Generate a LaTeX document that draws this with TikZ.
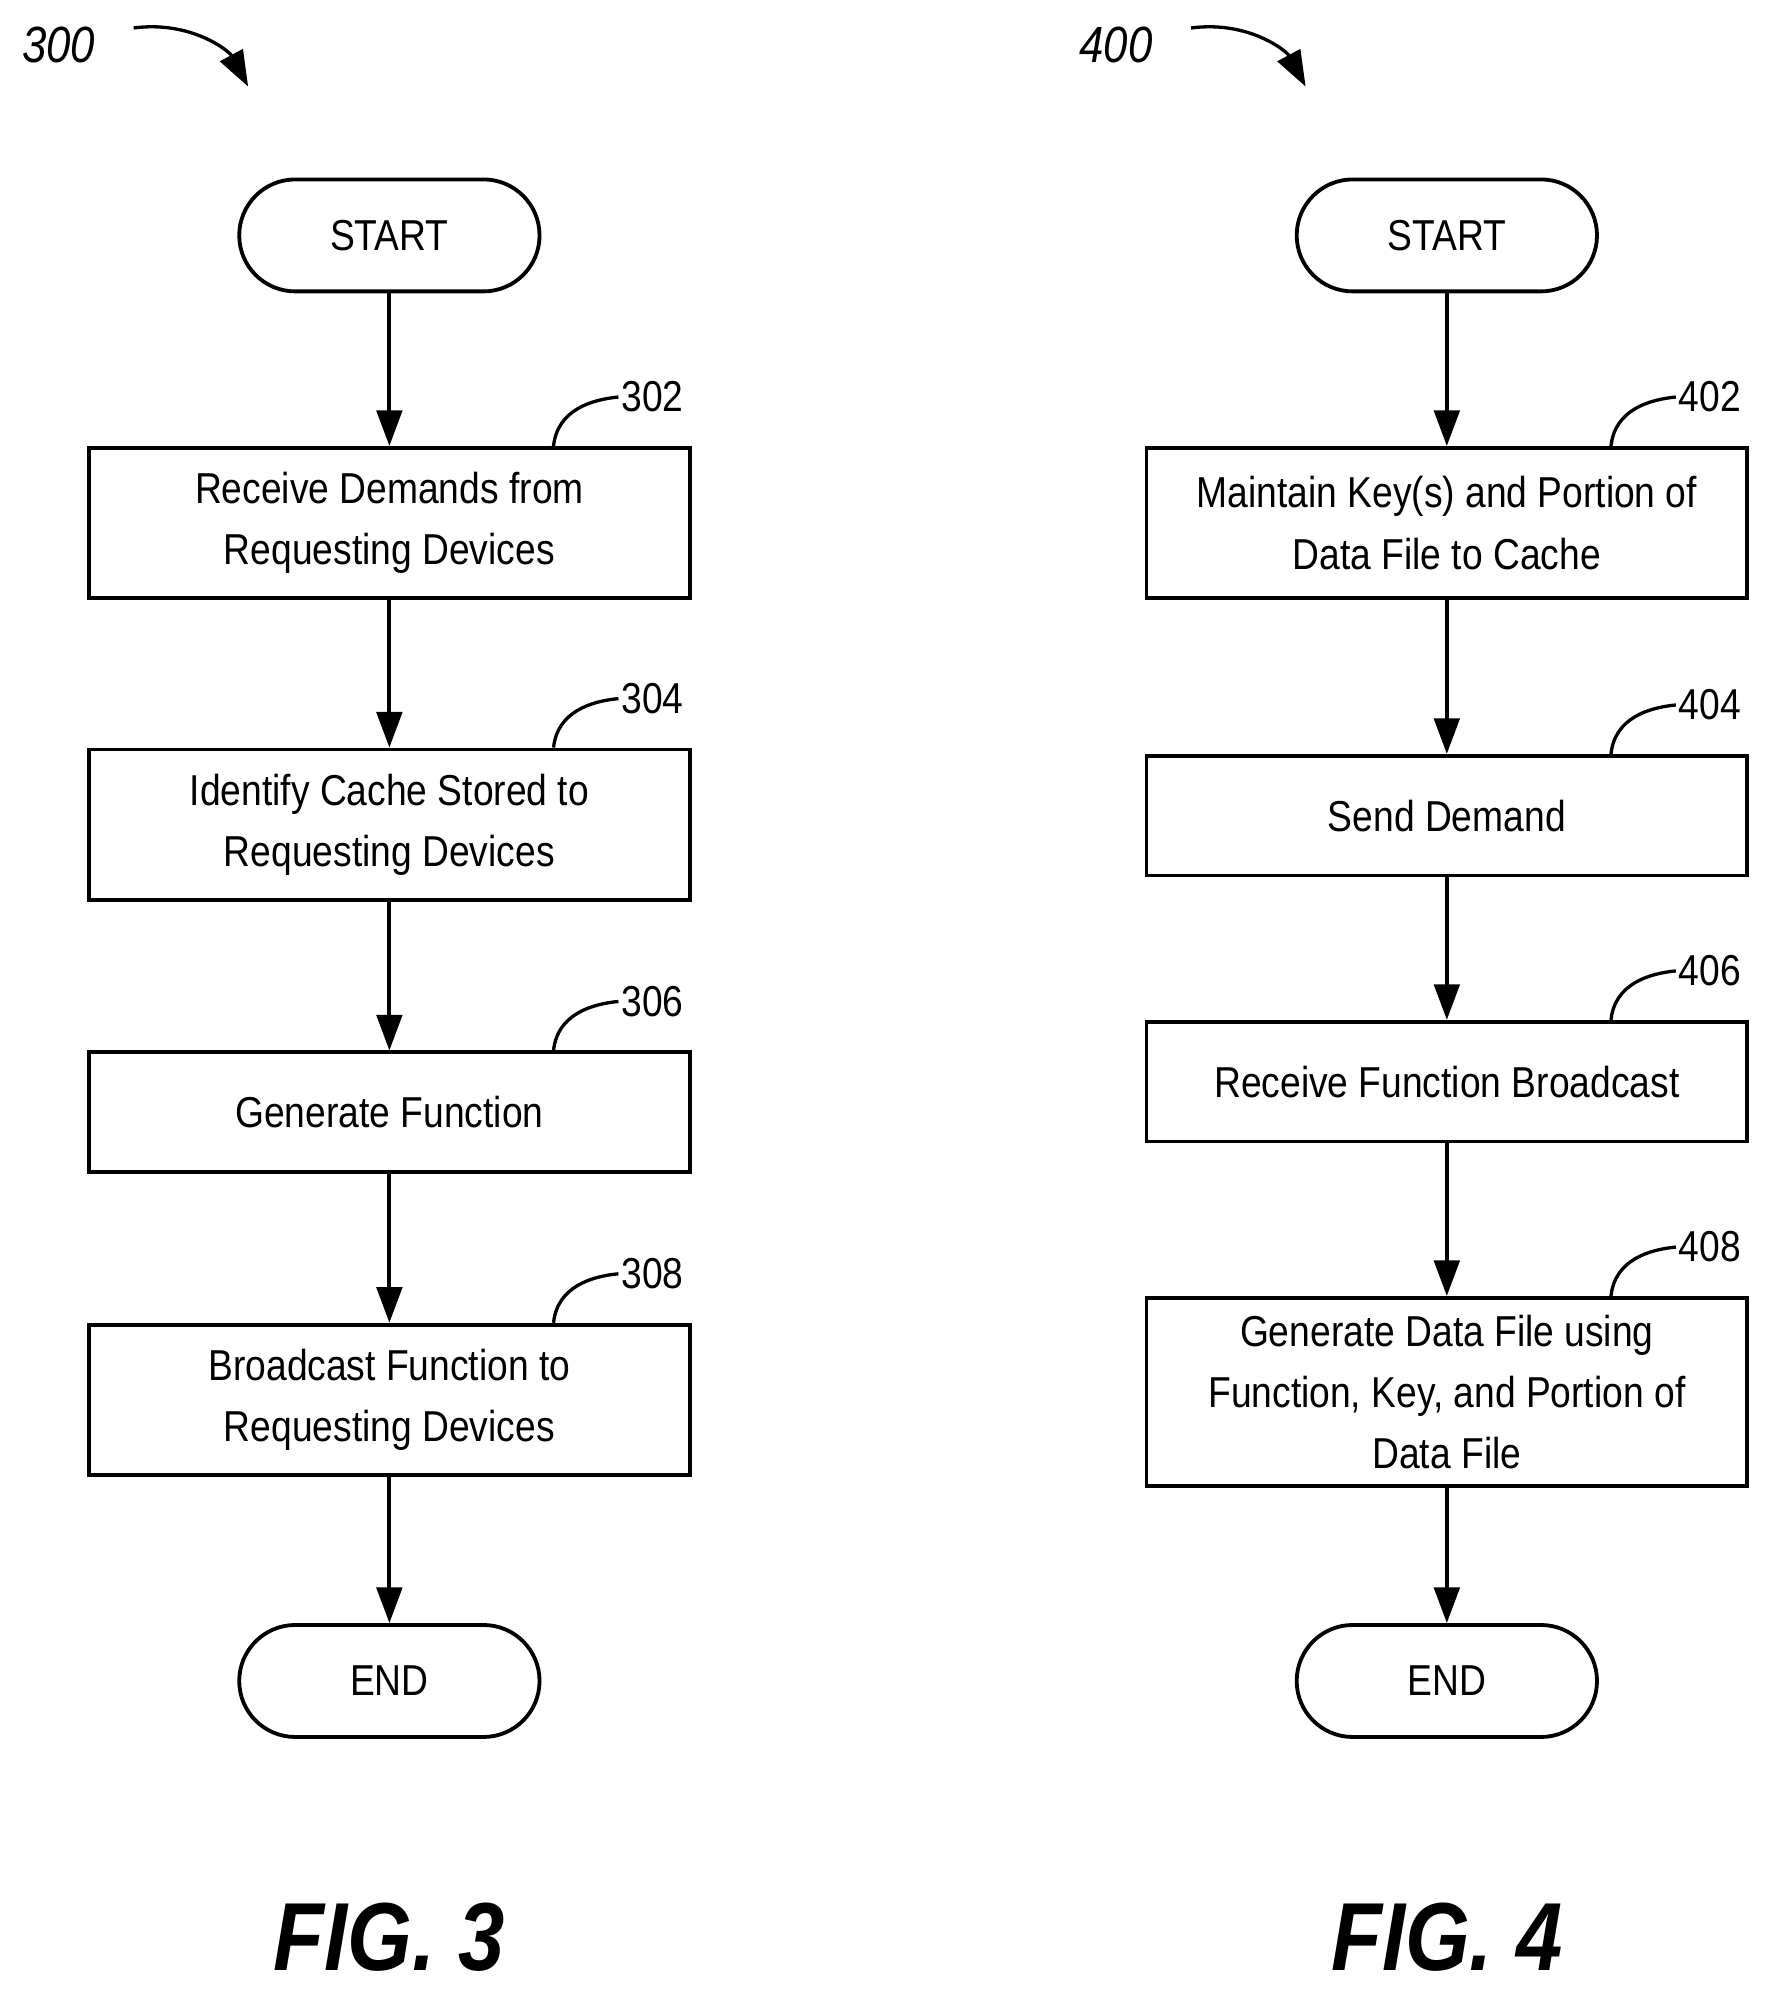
\documentclass[tikz,border=0pt]{standalone}
\usepackage{fontspec}
\setmainfont{Liberation Sans}[FakeStretch=0.86]
\usetikzlibrary{arrows.meta}
\begin{document}
\begin{tikzpicture}[x=0.5pt,y=-0.5pt,
 box/.style={draw,line width=1.5pt,minimum width=236pt,align=center,font=\fontsize{17}{24}\selectfont,inner sep=0pt},
 term/.style={draw,line width=1.5pt,rounded corners=22pt,minimum width=118pt,minimum height=44pt,font=\fontsize{17}{20}\selectfont},
 arr/.style={line width=1.5pt,-{Triangle[length=14pt,width=10pt]}},
 lbl/.style={font=\fontsize{17}{20}\selectfont},
 fig/.style={font=\fontsize{38}{44}\selectfont\bfseries\itshape}]
\useasboundingbox (0,0) rectangle (1390,1567);
% FIG 3
\node[term] (s3) at (306,185) {START};
\node[box,minimum height=59pt] (b302) at (306,411) {Receive Demands from\\Requesting Devices};
\node[box,minimum height=59pt] (b304) at (306,648) {Identify Cache Stored to\\Requesting Devices};
\node[box,minimum height=47pt] (b306) at (306,874) {Generate Function};
\node[box,minimum height=59pt] (b308) at (306,1100) {Broadcast Function to\\Requesting Devices};
\node[term] (e3) at (306,1321) {END};
\draw[arr] (s3) -- (b302); \draw[arr] (b302) -- (b304); \draw[arr] (b304) -- (b306);
\draw[arr] (b306) -- (b308); \draw[arr] (b308) -- (e3);
% FIG 4
\node[term] (s4) at (1137,185) {START};
\node[box,minimum height=59pt] (b402) at (1137,411) {Maintain Key(s) and Portion of\\Data File to Cache};
\node[box,minimum height=47pt] (b404) at (1137,641) {Send Demand};
\node[box,minimum height=47pt] (b406) at (1137,850) {Receive Function Broadcast};
\node[box,minimum height=74pt] (b408) at (1137,1094) {Generate Data File using\\Function, Key, and Portion of\\Data File};
\node[term] (e4) at (1137,1321) {END};
\draw[arr] (s4) -- (b402); \draw[arr] (b402) -- (b404); \draw[arr] (b404) -- (b406);
\draw[arr] (b406) -- (b408); \draw[arr] (b408) -- (e4);
% labels
\foreach \n/\x/\y/\t in {b302/435/352/302,b304/435/589/304,b306/435/827/306,b308/435/1041/308,
 b402/1266/352/402,b404/1266/594/404,b406/1266/803/406,b408/1266/1020/408}{
 \node[lbl,anchor=west,inner sep=1pt] (l\t) at (\x+51,\y-40) {\t};
 \draw[line width=1.3pt] (\n.north -| \x,\y) .. controls (\x+3,\y-30) and (\x+30,\y-38) .. (l\t.west);
}
\node[font=\fontsize{20}{24}\selectfont\itshape] (n300) at (46,35) {300};
\node[font=\fontsize{20}{24}\selectfont\itshape] (n400) at (877,35) {400};
\coordinate (a3) at (195,68); \coordinate (a4) at (1026,68);
\draw[arr,line width=1.3pt] (105,22) .. controls (150,16) and (180,40) .. (a3);
\draw[arr,line width=1.3pt] (936,22) .. controls (981,16) and (1011,40) .. (a4);
\node[fig] (f3) at (306,1522) {FIG. 3};
\node[fig] (f4) at (1137,1522) {FIG. 4};
\end{tikzpicture}
\end{document}
